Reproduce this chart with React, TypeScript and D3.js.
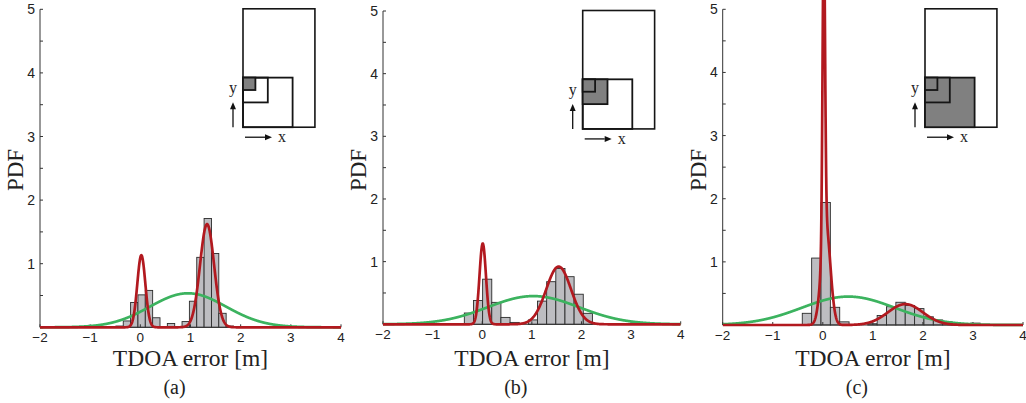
import React from 'react';
import * as d3 from 'd3';

// Panel captions and axis ticks
const panelLabels = ['(a)', '(b)', '(c)'];
const xTickValues = [-2, -1, 0, 1, 2, 3, 4];
const yTickLabels = [1, 2, 3, 4, 5];
const yTickMarks = [0.5, 1, 1.5, 2, 2.5, 3, 3.5, 4, 4.5, 5];

// Histogram of TDOA errors: first bin edge, bin width and bar heights (PDF)
const binStart = [-0.487, -0.361, -0.41];
const binWidth = [0.1465, 0.1844, 0.187];
const histA = [0.02, 0.1, 0.39, 0.51, 0.58, 0.15, 0.01, 0.06, 0.01, 0.09, 0.41, 1.1, 1.71, 1.16, 0.22, 0.02, 0, 0, 0.01];
const histB = [0.18, 0.38, 0.72, 0.35, 0.11, 0.03, 0, 0.07, 0.37, 0.68, 0.89, 0.76, 0.48, 0.175];
const histC = [0.185, 1.06, 1.94, 0.28, 0.05, 0, 0, 0.02, 0.15, 0.29, 0.36, 0.31, 0.26, 0.13, 0.08, 0.05, 0.02, 0, 0.03];
const histograms = [histA, histB, histC];

// Gaussian-mixture fit (red)
const mixMeans = [[0.02, 1.33], [0.01, 1.54], [0.02, 0.06, 1.65]];
const mixSigmas = [[0.08, 0.14], [0.065, 0.25], [0.025, 0.09, 0.35]];
const mixWeights = [[0.227, 0.569], [0.21, 0.577], [0.3, 0.36, 0.29]];

// Single Gaussian fit (green)
const gaussMean = [0.95, 1.03, 0.51];
const gaussSigma = [0.76, 0.92, 0.93];
const gaussWeight = [1.019, 1.038, 1.049];

// Room sketch: nested square sizes (units) and how many of them are shaded
const roomSize = [5.8, 9.55];
const squareSizes = [4, 2, 1];
const shadedFrom = [2, 1, 0]; // squares with index >= this are shaded

const frames = [
  { x0: 40, x1: 341, y0: 327.3, y1: 9.3 },
  { x0: 383, x1: 680.7, y0: 324.3, y1: 11 },
  { x0: 722.7, x1: 1023, y0: 325, y1: 9.3 },
];

const RED = '#b2191f';
const GREEN = '#3cb35f';
const SANS = '"Liberation Sans", Arial, Helvetica, sans-serif';
const SERIF = '"Liberation Serif", "Times New Roman", serif';

const SQRT2PI = Math.sqrt(2 * Math.PI);
const normal = (x: number, m: number, s: number, w: number) =>
  (w / (s * SQRT2PI)) * Math.exp(-((x - m) * (x - m)) / (2 * s * s));

const grid = d3.range(-2, 4.0001, 0.004);

function Panel({ i }: { i: number }) {
  const f = frames[i];
  const x = d3.scaleLinear().domain([-2, 4]).range([f.x0, f.x1]);
  const y = d3.scaleLinear().domain([0, 5]).range([f.y0, f.y1]);

  const mixPts: [number, number][] = grid.map((v) => [
    v,
    mixMeans[i].reduce((acc, m, k) => acc + normal(v, m, mixSigmas[i][k], mixWeights[i][k]), 0),
  ]);
  const gaussPts: [number, number][] = grid.map((v) => [v, normal(v, gaussMean[i], gaussSigma[i], gaussWeight[i])]);
  const line = d3
    .line<[number, number]>()
    .x((d) => x(d[0]))
    .y((d) => y(d[1]));

  const bars = histograms[i].map((h, k) => ({
    lo: binStart[i] + k * binWidth[i],
    hi: binStart[i] + (k + 1) * binWidth[i],
    h,
  }));

  // room sketch geometry
  const unit = 12.4;
  const rw = roomSize[0] * unit;
  const rh = roomSize[1] * unit;
  const left = f.x1 - 98;
  const top = f.y1 - 0.5;
  const bottom = top + rh;

  const clipId = `clip-${i}`;
  const cx = (f.x0 + f.x1) / 2;

  return (
    <g>
      <defs>
        <clipPath id={clipId}>
          <rect x={f.x0} y={0} width={f.x1 - f.x0} height={f.y0 + 2} />
        </clipPath>
      </defs>

      {/* histogram */}
      <g>
        {bars
          .filter((b) => b.h > 0)
          .map((b, k) => (
            <rect
              key={k}
              x={x(b.lo)}
              y={y(b.h)}
              width={x(b.hi) - x(b.lo)}
              height={y(0) - y(b.h)}
              fill="#bdbdc1"
              stroke="#2b2b2b"
              strokeWidth={0.9}
            />
          ))}
      </g>

      {/* axes */}
      <line x1={f.x0} x2={f.x1} y1={f.y0} y2={f.y0} stroke="#333" strokeWidth={1} />
      <line x1={f.x0} x2={f.x0} y1={f.y0} y2={f.y1} stroke="#333" strokeWidth={1} />
      {yTickMarks.map((t) => (
        <line key={t} x1={f.x0} x2={f.x0 + 3} y1={y(t)} y2={y(t)} stroke="#333" strokeWidth={1} />
      ))}
      {xTickValues.map((t) => (
        <line key={t} x1={x(t)} x2={x(t)} y1={f.y0} y2={f.y0 - 3} stroke="#333" strokeWidth={1} />
      ))}

      {/* fitted densities */}
      <g clipPath={`url(#${clipId})`}>
        <path d={line(gaussPts) || ''} fill="none" stroke={GREEN} strokeWidth={2.7} />
        <path d={line(mixPts) || ''} fill="none" stroke={RED} strokeWidth={2.7} />
      </g>

      {/* tick labels */}
      {yTickLabels.map((t) => (
        <text key={t} x={f.x0 - 5} y={y(t) + 5} fontFamily={SANS} fontSize={14} fill="#222" textAnchor="end">
          {t}
        </text>
      ))}
      {xTickValues.map((t) => (
        <text key={t} x={x(t)} y={f.y0 + 15} fontFamily={SANS} fontSize={13.5} fill="#222" textAnchor="middle">
          {t < 0 ? `\u2212${Math.abs(t)}` : t}
        </text>
      ))}

      {/* axis titles */}
      <text
        x={f.x0 - 22}
        y={170}
        fontFamily={SERIF}
        fontSize={23}
        fill="#222"
        textAnchor="middle"
        transform={`rotate(-90 ${f.x0 - 22} 170)`}
        dominantBaseline="middle"
      >
        PDF
      </text>
      <text x={cx} y={365.5} fontFamily={SERIF} fontSize={23.5} fill="#222" textAnchor="middle">
        TDOA error [m]
      </text>
      <text x={cx - 16} y={394} fontFamily={SERIF} fontSize={20} fill="#222" textAnchor="middle">
        {panelLabels[i]}
      </text>

      {/* room sketch */}
      <g>
        <rect x={left} y={top} width={rw} height={rh} fill="#fff" stroke="#151515" strokeWidth={1.6} />
        {squareSizes.map((s, k) => (
          <rect
            key={k}
            x={left}
            y={bottom - squareSizes[0] * unit}
            width={s * unit}
            height={s * unit}
            fill={k >= shadedFrom[i] ? '#808080' : 'none'}
            stroke="#151515"
            strokeWidth={1.8}
          />
        ))}
        <text x={left - 10} y={bottom - 34} fontFamily={SERIF} fontSize={16} fill="#222" textAnchor="middle">
          y
        </text>
        <line x1={left - 10} x2={left - 10} y1={bottom} y2={bottom - 19} stroke="#111" strokeWidth={1.3} />
        <path d={`M${left - 10},${bottom - 25} l-3,7 l6,0 z`} fill="#111" />
        <line x1={left + 2} x2={left + 22} y1={bottom + 10} y2={bottom + 10} stroke="#111" strokeWidth={1.3} />
        <path d={`M${left + 29},${bottom + 10} l-7,-3 l0,6 z`} fill="#111" />
        <text x={left + 39} y={bottom + 15} fontFamily={SERIF} fontSize={16} fill="#222" textAnchor="middle">
          x
        </text>
      </g>
    </g>
  );
}

export default function App() {
  return (
    <div style={{ position: 'absolute', left: 0, top: 0 }}>
      <svg width={1026} height={403} viewBox="0 0 1026 403" style={{ display: 'block', background: '#fff' }}>
        {panelLabels.map((_, i) => (
          <Panel key={i} i={i} />
        ))}
      </svg>
    </div>
  );
}
